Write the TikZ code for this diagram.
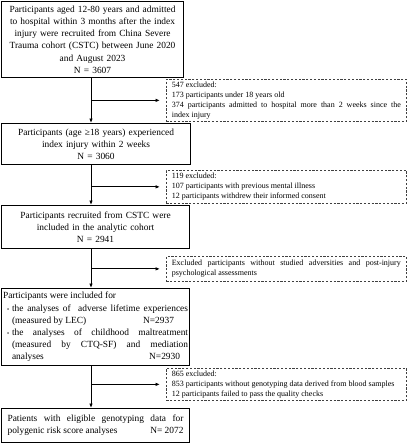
\documentclass[tikz,border=0pt]{standalone}
\usepackage{fontspec}
\setmainfont{Liberation Serif}
\usetikzlibrary{arrows.meta}
\tikzset{
  mainbox/.style={draw=black, line width=1.1pt, rectangle, anchor=north west,
    font=\fontsize{9.4}{12.2}\selectfont, inner ysep=2pt},
  exclbox/.style={draw=black!75, dashed, dash pattern=on 2.2pt off 1.6pt, line width=0.7pt,
    rectangle, anchor=north west, minimum width=240pt, text width=229pt, inner xsep=5.5pt,
    font=\fontsize{8}{10}\selectfont, inner ysep=1pt, align=justify},
  flow/.style={line width=1pt, -{Latex[length=4.5pt,width=3.6pt]}},
}
\begin{document}
\begin{tikzpicture}[x=1pt,y=-1pt]
\useasboundingbox (0,0) rectangle (407,444);
\coordinate (sp) at (91,0);
\node[mainbox, minimum width=182pt, minimum height=76pt, text width=176pt, inner xsep=1pt, align=center] (b1) at (1,1)
  {Participants aged 12-80 years and admitted\\ to hospital within 3 months after the index\\ injury were recruited from China Severe\\ Trauma cohort (CSTC) between June 2020\\ and August 2023\\ N = 3607};
\node[exclbox, minimum height=42pt] (d1) at (166,79)
  {547 excluded:\\ 173 participants under 18 years old\\ 374 participants admitted to hospital more than 2 weeks since the\linebreak index injury};
\node[mainbox, minimum width=189pt, minimum height=41pt, text width=180pt, align=center] (b2) at (1,123)
  {Participants (age ≥18 years) experienced\\ index injury within 2 weeks\\ N = 3060};
\node[exclbox, minimum height=33pt] (d2) at (166,170)
  {119 excluded:\\ 107 participants with previous mental illness\\ 12 participants withdrew their informed consent};
\node[mainbox, minimum width=188pt, minimum height=43pt, text width=180pt, align=center] (b3) at (1,205)
  {Participants recruited from CSTC were\\ included in the analytic cohort\\ N = 2941};
\node[exclbox, minimum height=25pt] (d3) at (166,256)
  {Excluded participants without studied adversities and post-injury\linebreak psychological assessments};
\node[mainbox, minimum width=188pt, minimum height=77pt, text width=185pt, inner xsep=1pt, align=justify] (b4) at (1,288)
  {\noindent Participants were included for\par
   \hangindent=9pt\hangafter=1\noindent\hspace*{4pt}\makebox[5pt][l]{\fontsize{6}{6}\selectfont\textbullet}the analyses of\ \ adverse lifetime experiences\linebreak (measured by LEC)\nobreak\hfill N=2937\hspace*{14pt}\par
   \hangindent=9pt\hangafter=1\noindent\hspace*{4pt}\makebox[5pt][l]{\fontsize{6}{6}\selectfont\textbullet}the analyses of childhood maltreatment\linebreak (measured by CTQ-SF) and mediation\linebreak \hbox to 174pt{analyses\hfill N=2930\hspace*{6pt}}\par};
\node[exclbox, minimum height=32pt] (d4) at (166,368)
  {865 excluded:\\ 853 participants without genotyping data derived from blood samples\\ 12 participants failed to pass the quality checks};
\node[mainbox, minimum width=188pt, minimum height=34pt, text width=176pt, inner xsep=5.5pt, align=justify] (b5) at (1,408)
  {Patients with eligible genotyping data for\linebreak polygenic risk score analyses\nobreak\hfill N= 2072\hspace*{1pt}};
% spine
\draw[flow] (b1.south -| sp) -- (b2.north -| sp);
\draw[flow] (b2.south -| sp) -- (b3.north -| sp);
\draw[flow] (b3.south -| sp) -- (b4.north -| sp);
\draw[flow] (b4.south -| sp) -- (b5.north -| sp);
% side arrows
\draw[flow, shorten >=6pt] (sp |- d1.west) -- (d1.west);
\draw[flow, shorten >=6pt] (sp |- d2.west) -- (d2.west);
\draw[flow, shorten >=6pt] (sp |- d3.west) -- (d3.west);
\draw[flow, shorten >=6pt] (sp |- d4.west) -- (d4.west);
\end{tikzpicture}
\end{document}
